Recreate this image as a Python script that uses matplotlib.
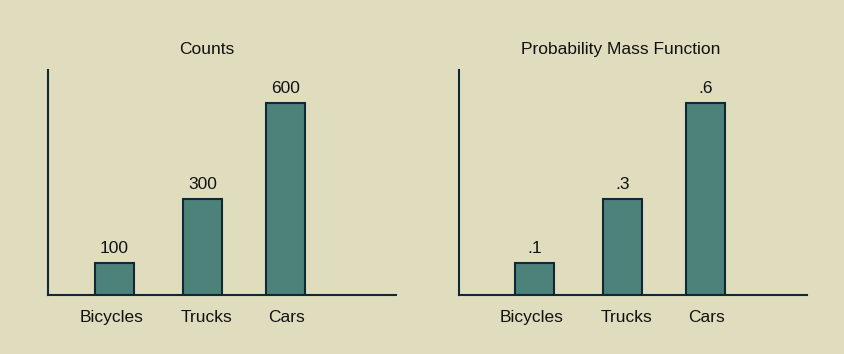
import matplotlib.pyplot as plt

categories = ['Bicycles', 'Trucks', 'Cars']
counts = [100, 300, 600]
count_labels = ['100', '300', '600']
pmf = [0.1, 0.3, 0.6]
pmf_labels = ['.1', '.3', '.6']

BG = '#E0DDBF'
BAR = '#4C827A'
EDGE = '#0F2A36'

plt.rcParams['font.family'] = ['Liberation Sans', 'DejaVu Sans']
plt.rcParams['font.size'] = 12.5

fig = plt.figure(figsize=(8.44, 3.54), dpi=100, facecolor=BG)

# bar positions (slightly uneven, as in the reference)
pos = [0, 1, 1.94]
# category labels sit a little off the bar centres
label_pos = [-0.03, 1.045, 1.95]


def panel(rect, values, labels, title, xlim, ylim, title_x):
    ax = fig.add_axes(rect)
    ax.patch.set_alpha(0)
    ax.bar(pos, values, width=0.44, color=BAR, edgecolor=EDGE, linewidth=1.5)
    for x, v, t in zip(pos, values, labels):
        ax.annotate(t, (x, v), xytext=(0, 5), textcoords='offset points',
                    ha='center', va='bottom', color='#111111')
    ax.set_xlim(*xlim)
    ax.set_ylim(*ylim)
    ax.set_xticks(label_pos)
    ax.set_xticklabels(categories)
    ax.set_yticks([])
    ax.tick_params(axis='x', length=0, pad=10.5, labelcolor='#111111')
    for s in ['top', 'right']:
        ax.spines[s].set_visible(False)
    for s in ['left', 'bottom']:
        ax.spines[s].set_color(EDGE)
        ax.spines[s].set_linewidth(1.5)
    fig.text(title_x, 1 - 49.5 / 354, title, ha='center', va='center',
             color='#111111')
    return ax


bottom = 1 - 295 / 354
height = 225 / 354
width = 348 / 844

panel([48 / 844, bottom, width, height], counts, count_labels, 'Counts',
      (-0.756, 3.2), (0, 703), 207 / 844)
panel([459 / 844, bottom, width, height], pmf, pmf_labels,
      'Probability Mass Function', (-0.858, 3.097), (0, 0.703), 621 / 844)

fig.savefig('out.png', dpi=100, facecolor=BG)
